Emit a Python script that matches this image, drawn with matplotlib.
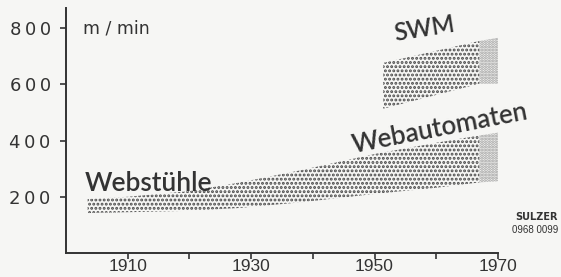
import matplotlib
matplotlib.use("Agg")
import matplotlib.pyplot as plt
import numpy as np

# Data
years_web = [1903.5, 1910, 1920, 1928, 1938, 1950, 1960, 1967]
web_low = [142, 145, 150, 160, 180, 210, 232, 251]
web_high = [192, 200, 220, 250, 294, 352, 392, 418]
years_web_late = [1967, 1970]
web_late_low = [251, 255]
web_late_high = [418, 428]

years_swm = [1951.4, 1967]
swm_low = [513, 602]
swm_high = [676, 754]
years_swm_late = [1967, 1970]
swm_late_low = [602, 602]
swm_late_high = [754, 765]

xticks = [1910, 1930, 1950, 1970]
xminor = [1920, 1940, 1960]
yticks = [200, 400, 600, 800]
ytick_labels = ["2\u20090\u20090", "4\u20090\u20090", "6\u20090\u20090", "8\u20090\u20090"]

bg = "#f6f6f4"
ink = "#333333"
plt.rcParams["hatch.linewidth"] = 1.4

fig = plt.figure(figsize=(5.61, 2.77), dpi=100, facecolor=bg)
ax = fig.add_axes([0.1176, 0.0866, 0.77, 0.8844], facecolor=bg)
ax.set_xlim(1900, 1970)
ax.set_ylim(0, 871)

def band(x, lo, hi, hatch, color):
    ax.fill_between(x, lo, hi, facecolor="none", edgecolor=color,
                    hatch=hatch, linewidth=0)

band(years_web, web_low, web_high, "....", "#4a4a4a")
band(years_web_late, web_late_low, web_late_high, "......", "#9a9a9a")
band(years_swm, swm_low, swm_high, "....", "#4a4a4a")
band(years_swm_late, swm_late_low, swm_late_high, "......", "#9a9a9a")

for s in ["top", "right"]:
    ax.spines[s].set_visible(False)
for s in ["left", "bottom"]:
    ax.spines[s].set_color(ink)
    ax.spines[s].set_linewidth(1.4)

ax.set_xticks(xticks)
ax.set_xticks(xminor, minor=True)
ax.set_xticklabels([str(v) for v in xticks], fontsize=12.5, color=ink,
                   family="Liberation Sans")
ax.set_yticks(yticks)
ax.set_yticklabels(ytick_labels, fontsize=13, color=ink,
                   family="DejaVu Sans")
ax.tick_params(axis="x", which="both", direction="out", length=4, width=1.2,
               color=ink, pad=0.5)
ax.tick_params(axis="y", direction="out", length=4, width=1.2, color=ink, pad=7)

ax.text(1902.7, 800, "m / min", fontsize=12.5, color=ink, va="center",
        ha="left", family="DejaVu Sans")
ax.text(1903, 203, "Webstühle", fontsize=19, color=ink, va="bottom",
        ha="left", family="Lato", fontweight="semibold")
ax.text(1946.8, 338, "Webautomaten", fontsize=18.5, color=ink, va="bottom",
        ha="left", rotation=11, rotation_mode="anchor", family="Lato",
        fontweight="semibold")
ax.text(1953.5, 740, "SWM", fontsize=17.5, color=ink, va="bottom",
        ha="left", rotation=9, rotation_mode="anchor", family="Lato",
        fontweight="semibold")

fig.text(0.995, 0.198, "SULZER", fontsize=7, fontweight="bold",
         color=ink, ha="right", va="bottom", family="DejaVu Sans")
fig.text(0.995, 0.152, "0968 0099", fontsize=7, color=ink, ha="right",
         va="bottom", family="Liberation Sans")

fig.savefig("out.png", dpi=100, facecolor=bg)
